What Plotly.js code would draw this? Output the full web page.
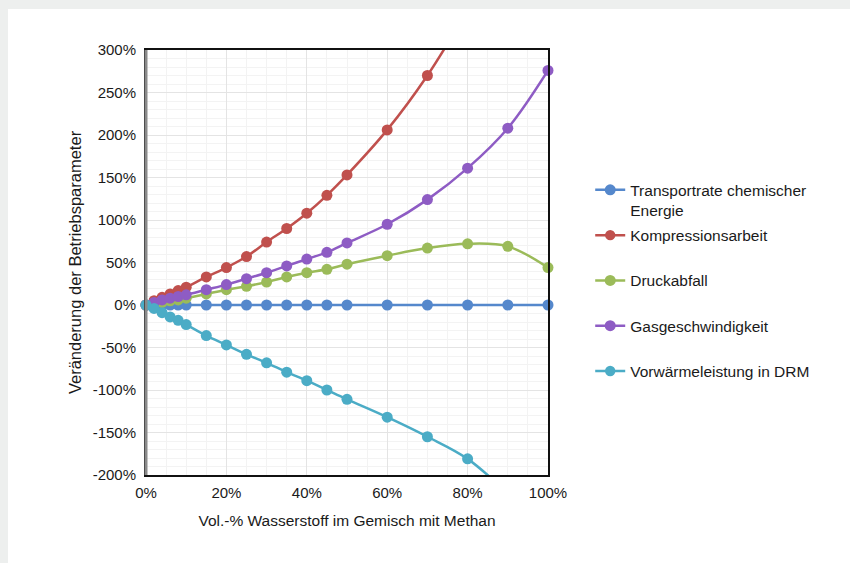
<!DOCTYPE html>
<html>
<head>
<meta charset="utf-8">
<script src="https://cdn.plot.ly/plotly-3.0.1.min.js"></script>
<style>
  html, body { margin: 0; padding: 0; background: #edefee; }
  #chart { position: absolute; left: 8px; top: 9px; width: 842px; height: 554px; background: #fff; }
</style>
</head>
<body>
<div id="chart"></div>
<script>
// Vol.-% Wasserstoff
const xVals = [0, 2, 4, 6, 8, 10, 15, 20, 25, 30, 35, 40, 45, 50, 60, 70, 80, 90, 100];
const xRed  = [0, 2, 4, 6, 8, 10, 15, 20, 25, 30, 35, 40, 45, 50, 60, 70, 80];
const xCyan = [0, 2, 4, 6, 8, 10, 15, 20, 25, 30, 35, 40, 45, 50, 60, 70, 80, 90];

const transport = [0, 0, 0, 0, 0, 0, 0, 0, 0, 0, 0, 0, 0, 0, 0, 0, 0, 0, 0];
const kompression = [0, 5, 9, 13, 17, 21, 33, 44, 57, 74, 90, 108, 129, 153, 206, 270, 347];
const druckabfall = [0, 1.5, 3, 5, 6, 8, 13, 18, 22, 27, 33, 38, 42, 48, 58, 67, 72, 69, 44];
const gasgeschw = [0, 3, 6, 8, 10, 12, 18, 24, 31, 38, 46, 54, 62, 73, 95, 124, 161, 208, 276];
const vorwaerme = [0, -4, -9, -14, -18, -23, -36, -47, -58, -68, -79, -89, -100, -111, -132, -155, -181, -222];

const seriesNames = ["Transportrate chemischer<br>Energie", "Kompressionsarbeit<br> ", "Druckabfall<br> ", "Gasgeschwindigkeit<br> ", "Vorwärmeleistung in DRM<br> "];
const seriesColors = ["#5588cc", "#c0504d", "#9bbb59", "#8e5cc4", "#4bacc6"];

const xTickVals = [0, 20, 40, 60, 80, 100];
const xTickText = ["0%", "20%", "40%", "60%", "80%", "100%"];
const yTickVals = [-200, -150, -100, -50, 0, 50, 100, 150, 200, 250, 300];
const yTickText = ["-200%", "-150%", "-100%", "-50%", "0%", "50%", "100%", "150%", "200%", "250%", "300%"];

const xs = [xVals, xRed, xVals, xVals, xCyan];
const ys = [transport, kompression, druckabfall, gasgeschw, vorwaerme];

// points lying outside the visible range get no marker (their line segment is clipped)
const traces = ys.map((y, i) => ({
  x: xs[i], y: y, name: seriesNames[i],
  type: 'scatter', mode: 'lines+markers', cliponaxis: false,
  line: { color: seriesColors[i], width: 2.5, shape: 'spline', smoothing: 1 },
  marker: { color: seriesColors[i], opacity: 1, line: { width: 0 },
            size: y.map(v => (v > 300 || v < -200) ? 0 : 11) },
  legendgroup: 'g' + i
}));

const font = { family: 'Liberation Sans, Arial, sans-serif', color: '#1a1a1a' };

const layout = {
  width: 842, height: 554,
  margin: { l: 138, r: 302, t: 41, b: 88 },
  paper_bgcolor: '#ffffff', plot_bgcolor: '#ffffff',
  font: Object.assign({ size: 15 }, font),
  showlegend: true,
  legend: {
    x: 1.105, xanchor: 'left', y: 0.71, yanchor: 'top',
    traceorder: 'grouped', tracegroupgap: 2,
    font: Object.assign({ size: 15.5 }, font),
    bgcolor: 'rgba(0,0,0,0)', borderwidth: 0, valign: 'top'
  },
  xaxis: {
    range: [0, 100], tickvals: xTickVals, ticktext: xTickText,
    showgrid: true, gridcolor: '#e4e4e4', gridwidth: 1,
    minor: { dtick: 5, tick0: 0, showgrid: true, gridcolor: '#f3f3f3', gridwidth: 1 },
    zeroline: false, showline: true, linecolor: '#111', linewidth: 2, mirror: true,
    ticks: '', ticklabelstandoff: 3, tickfont: Object.assign({ size: 15 }, font),
    title: { text: 'Vol.-% Wasserstoff im Gemisch mit Methan', font: Object.assign({ size: 15.5 }, font), standoff: 15 }
  },
  yaxis: {
    range: [-200, 300], tickvals: yTickVals, ticktext: yTickText,
    showgrid: true, gridcolor: '#e4e4e4', gridwidth: 1,
    minor: { dtick: 10, tick0: 0, showgrid: true, gridcolor: '#f3f3f3', gridwidth: 1 },
    zeroline: false, showline: true, linecolor: '#111', linewidth: 2, mirror: true,
    ticks: '', ticklabelstandoff: 5, tickfont: Object.assign({ size: 15 }, font),
    title: { text: 'Veränderung der Betriebsparameter', font: Object.assign({ size: 16.5 }, font), standoff: 7 }
  },
  shapes: [
    { type: 'line', xref: 'paper', yref: 'paper', x0: 0, x1: 0, y0: 0, y1: 1,
      line: { color: '#8a8a8a', width: 3 } }
  ]
};

Plotly.newPlot('chart', traces, layout, { displayModeBar: false, responsive: false });
</script>
</body>
</html>
